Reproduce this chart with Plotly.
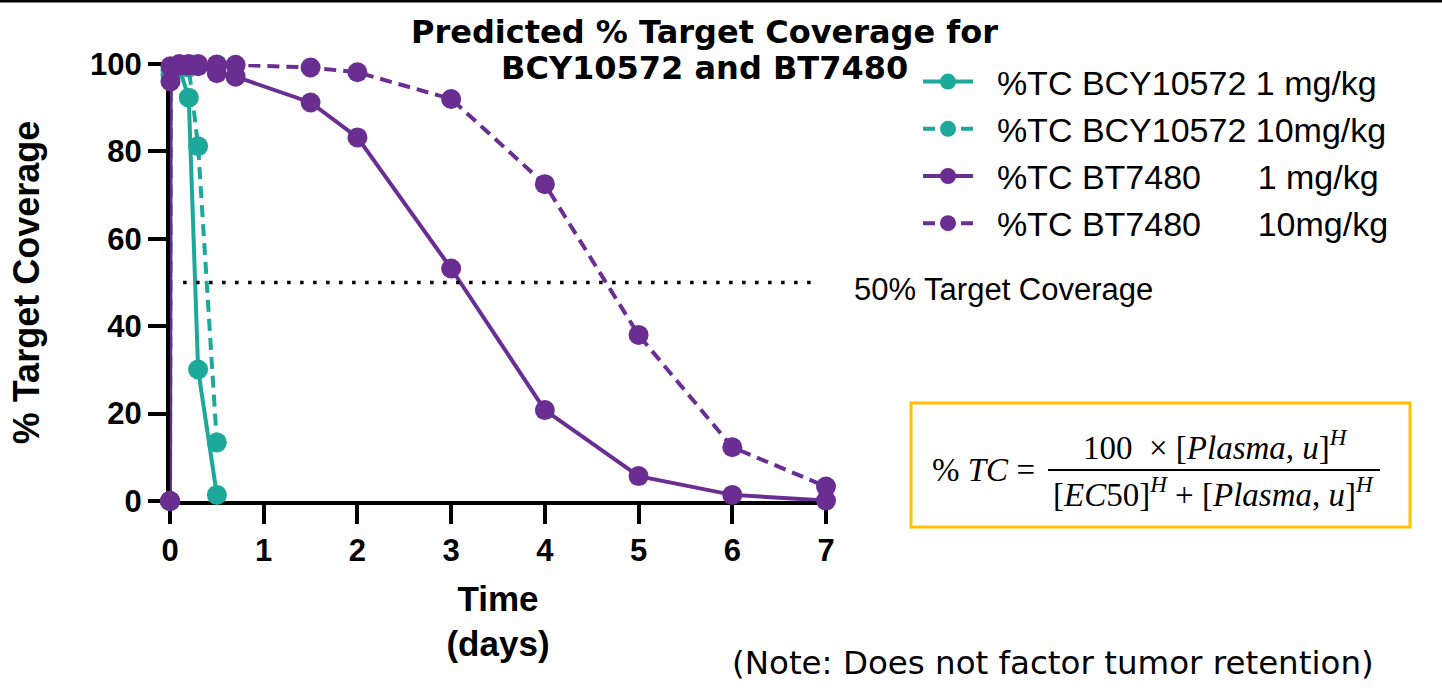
import plotly.graph_objects as go

# ---------------- data ----------------
time_bcy = [0, 0.005, 0.1, 0.2, 0.3, 0.5]
bcy_1mg = [0, 97.5, 99.0, 92.3, 30.1, 1.4]
bcy_10mg = [0, 98.5, 99.8, 99.2, 81.2, 13.4]

time_bt = [0, 0.005, 0.1, 0.2, 0.3, 0.5, 0.7, 1.5, 2, 3, 4, 5, 6, 7]
bt_1mg = [0, 96.0, 99.6, 99.7, 99.5, 97.9, 97.1, 91.2, 83.2, 53.2, 20.8, 5.7, 1.4, 0.1]
bt_10mg = [0, 99.5, 100, 100, 100, 99.9, 99.8, 99.2, 98.1, 92.0, 72.5, 38.0, 12.3, 3.3]

x_ticks = [0, 1, 2, 3, 4, 5, 6, 7]
y_ticks = [0, 20, 40, 60, 80, 100]
threshold = 50
threshold_x = [0.14, 6.88]

names = [
    "\u00a0\u00a0%TC BCY10572 1 mg/kg",
    "\u00a0\u00a0%TC BCY10572 10mg/kg",
    "\u00a0\u00a0%TC BT7480" + "\u00a0" * 6 + "1 mg/kg",
    "\u00a0\u00a0%TC BT7480" + "\u00a0" * 6 + "10mg/kg",
]

TEAL = "#1CA99A"
PURPLE = "#6A2D91"
DASH = "12px,7px"

W, H = 1442, 692
L, R, T, B = 170, 826, 64, 501


def px(x):
    return (x - L) / (R - L)


def py(y):
    return (B - y) / (B - T)


fig = go.Figure()
series = [
    (time_bcy, bcy_1mg, TEAL, "solid"),
    (time_bcy, bcy_10mg, TEAL, DASH),
    (time_bt, bt_1mg, PURPLE, "solid"),
    (time_bt, bt_10mg, PURPLE, DASH),
]
for i, (xs, ys, col, dash) in enumerate(series):
    fig.add_trace(go.Scatter(
        x=xs, y=ys, mode="lines+markers", name=names[i],
        line=dict(color=col, width=4, dash=dash),
        marker=dict(color=col, size=20),
        cliponaxis=False,
    ))

# 50% threshold dotted line
fig.add_trace(go.Scatter(
    x=threshold_x, y=[threshold, threshold], mode="lines",
    line=dict(color="black", width=3.5, dash="3.5px,9.5px"),
    showlegend=False, hoverinfo="skip",
))

axis_font = dict(family="Liberation Sans, Arial", size=31, color="black", weight="bold")

fig.update_layout(
    width=W, height=H, autosize=False,
    margin=dict(l=L, r=W - R, t=T, b=H - B, pad=0),
    paper_bgcolor="white", plot_bgcolor="white",
    showlegend=True,
    legend=dict(
        x=px(918), y=py(53), xanchor="left", yanchor="top",
        font=dict(family="Liberation Sans, Arial", size=34, color="black"),
        itemwidth=50, tracegroupgap=0,
        bgcolor="rgba(0,0,0,0)",
    ),
    xaxis=dict(
        range=[0, 7], tickvals=x_ticks, ticktext=[str(v) for v in x_ticks],
        showgrid=False, zeroline=False, showline=True, linecolor="black", linewidth=4,
        ticks="outside", ticklen=19, tickwidth=4, tickcolor="black",
        tickfont=axis_font, ticklabelstandoff=0, layer="below traces",
        title=dict(text="Time<br>(days)", font=dict(family="Liberation Sans, Arial", size=35, color="black", weight="bold"), standoff=20),
    ),
    yaxis=dict(
        range=[0, 100], tickvals=y_ticks, ticktext=[str(v) for v in y_ticks],
        showgrid=False, zeroline=False, showline=True, linecolor="black", linewidth=4,
        ticks="outside", ticklen=18, tickwidth=4, tickcolor="black",
        tickfont=axis_font, layer="below traces",
        title=dict(text="% Target Coverage", font=dict(family="Liberation Sans, Arial", size=36, color="black", weight="bold"), standoff=40),
    ),
)

# Title (two lines)
title_font = dict(family="DejaVu Sans", size=32, color="black", weight="bold")
fig.add_annotation(text="Predicted % Target Coverage for", xref="paper", yref="paper",
                   x=px(704), y=py(32), xanchor="center", yanchor="middle", showarrow=False, font=title_font)
fig.add_annotation(text="BCY10572 and BT7480", xref="paper", yref="paper",
                   x=px(704), y=py(68), xanchor="center", yanchor="middle", showarrow=False, font=title_font)

# 50% label
fig.add_annotation(text="50% Target Coverage", xref="paper", yref="paper",
                   x=px(852), y=py(289), xanchor="left", yanchor="middle", showarrow=False,
                   font=dict(family="Liberation Sans, Arial", size=31, color="black"))

# Note
fig.add_annotation(text="(Note: Does not factor tumor retention)", xref="paper", yref="paper",
                   x=px(1376), y=py(663), xanchor="right", yanchor="middle", showarrow=False,
                   font=dict(family="DejaVu Sans", size=32.5, color="black"))

# Formula box
fig.add_shape(type="rect", xref="paper", yref="paper",
              x0=px(911), x1=px(1410), y0=py(403), y1=py(527),
              line=dict(color="#FFC000", width=3), fillcolor="white", layer="below")
fig.add_shape(type="line", xref="paper", yref="paper",
              x0=px(1048), x1=px(1380), y0=py(470), y1=py(470),
              line=dict(color="black", width=2))
ffont = dict(family="Liberation Serif, Times New Roman", size=33, color="black")
fig.add_annotation(text="% <i>TC</i> =", xref="paper", yref="paper",
                   x=px(1037), y=py(470), xanchor="right", yanchor="middle", showarrow=False, font=ffont)
fig.add_annotation(text="100\u00a0\u00a0× [<i>Plasma</i>, <i>u</i>]<sup><i>H</i></sup>", xref="paper", yref="paper",
                   x=px(1215), y=py(445), xanchor="center", yanchor="middle", showarrow=False, font=ffont)
fig.add_annotation(text="[<i>EC</i>50]<sup><i>H</i></sup> + [<i>Plasma</i>, <i>u</i>]<sup><i>H</i></sup>", xref="paper", yref="paper",
                   x=px(1213), y=py(492), xanchor="center", yanchor="middle", showarrow=False, font=ffont)

# top border line
fig.add_shape(type="line", xref="paper", yref="paper",
              x0=px(0), x1=px(W), y0=py(1), y1=py(1),
              line=dict(color="black", width=3))

fig.write_html("out.html")
